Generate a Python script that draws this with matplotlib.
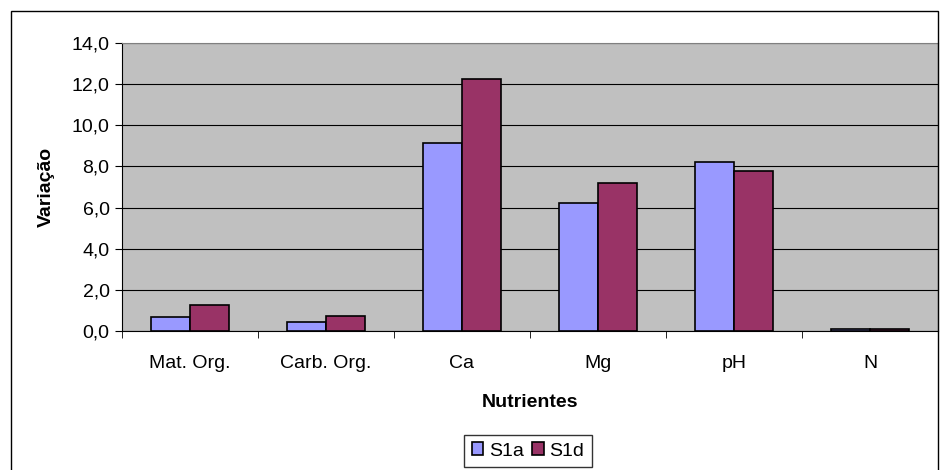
import numpy as np
import matplotlib.pyplot as plt
from matplotlib.patches import Rectangle

plt.rcParams['font.family'] = ['Liberation Sans', 'DejaVu Sans']

categorias = ['Mat. Org.', 'Carb. Org.', 'Ca', 'Mg', 'pH', 'N']
s1a = [0.7, 0.45, 9.15, 6.2, 8.2, 0.08]
s1d = [1.25, 0.72, 12.25, 7.2, 7.8, 0.08]
yticks = [0, 2, 4, 6, 8, 10, 12, 14]

fig = plt.figure(figsize=(9.4, 4.7), dpi=100)
fig.patches.append(Rectangle((11/940, -0.01), 927/940, 1 - 11/470 + 0.01,
                             transform=fig.transFigure, fill=False,
                             edgecolor='black', linewidth=1))

ax = fig.add_axes([122/940, (470-331)/470, 816/940, 288/470])
ax.set_facecolor('#C0C0C0')

x = np.arange(len(categorias))
w = 1/3.5
ax.bar(x - w/2, s1a, w, color='#9999FF', edgecolor='black', linewidth=1.2, label='S1a', zorder=3)
ax.bar(x + w/2, s1d, w, color='#993366', edgecolor='black', linewidth=1.2, label='S1d', zorder=3)

ax.set_xlim(-0.5, len(categorias) - 0.5)
ax.set_ylim(0, 14)
ax.set_yticks(yticks)
ax.yaxis.set_major_formatter(plt.FuncFormatter(lambda v, p: ('%.1f' % v).replace('.', ',')))
ax.grid(axis='y', color='black', linewidth=0.8, zorder=1)
ax.set_axisbelow(True)

ax.set_xticks(x)
ax.set_xticklabels(categorias)
ax.set_xticks(np.arange(-0.5, len(categorias)), minor=True)
ax.tick_params(axis='x', which='major', length=0, pad=17, labelsize=14)
ax.tick_params(axis='x', which='minor', length=5, direction='out')
ax.tick_params(axis='y', length=5, direction='out', labelsize=14, pad=4)

for s in ['top', 'right']:
    ax.spines[s].set_color('#808080')
ax.spines['left'].set_color('black')
ax.spines['bottom'].set_color('black')

ax.set_xlabel('Nutrientes', fontweight='bold', fontsize=14, labelpad=16)
ax.set_ylabel('Variação', fontweight='bold', fontsize=14, labelpad=12)

leg = fig.legend(loc='center', bbox_to_anchor=(528/940, (470-451)/470), ncol=2,
                 fontsize=14, frameon=True, fancybox=False, edgecolor='black',
                 handlelength=0.6, handleheight=0.6, handletextpad=0.3,
                 columnspacing=0.4, borderpad=0.4)
leg.get_frame().set_linewidth(1)

fig.savefig('out.png', dpi=100)
